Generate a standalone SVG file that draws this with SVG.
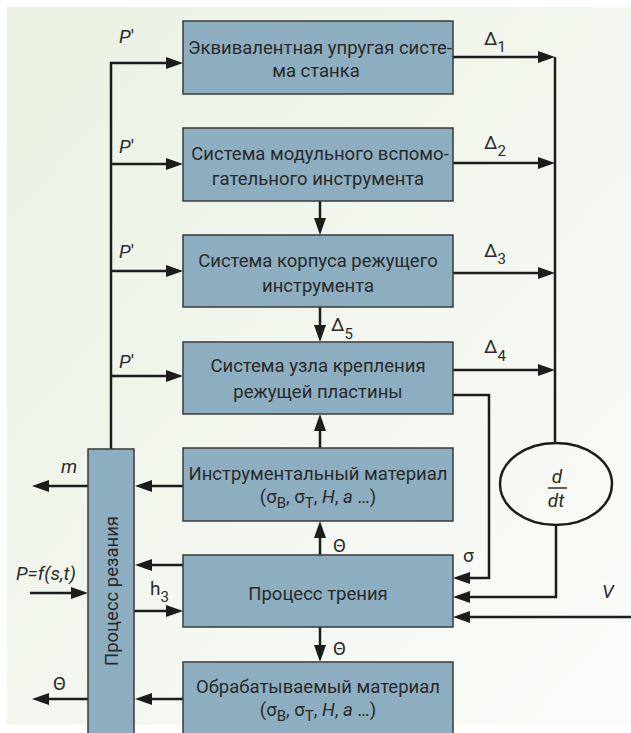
<svg xmlns="http://www.w3.org/2000/svg" width="631" height="733" viewBox="0 0 631 733">
<defs>
<linearGradient id="bg" x1="0" y1="0" x2="1" y2="1">
<stop offset="0" stop-color="#eaf1e2"/>
<stop offset="1" stop-color="#fbfcfa"/>
</linearGradient>
<marker id="ah" viewBox="0 0 17 12" refX="7" refY="6" markerWidth="17" markerHeight="12" markerUnits="userSpaceOnUse" orient="auto">
<path d="M0,0 L17,6 L0,12 z" fill="#1c1c1c"/>
</marker>
<style>
.box{fill:#8daec0;stroke:#3a3a3a;stroke-width:1.5}
.t{font-family:Roboto,"Noto Sans",sans-serif;font-size:18.5px;fill:#2a2a2a}
.l{font-size:19px}
.c{text-anchor:middle}
.i{font-style:italic}
.u{font-style:normal}
.w{fill:none;stroke:#1c1c1c;stroke-width:2.5}
.a{marker-end:url(#ah)}
.s{font-size:15px}
</style>
</defs>
<rect x="0" y="0" width="631" height="733" fill="#ffffff"/>
<rect x="7" y="7" width="624" height="718" fill="url(#bg)"/>

<g id="connectors">
<path class="w a" d="M111,449 V63 H173"/>
<path class="w a" d="M111,164 H173"/>
<path class="w a" d="M111,271 H173"/>
<path class="w a" d="M111,376 H173"/>
<path class="w a" d="M453,57 H545"/>
<path class="w a" d="M453,163 H545"/>
<path class="w a" d="M453,273 H545"/>
<path class="w a" d="M453,370 H545"/>
<path class="w" d="M555,57 V443"/>
<path class="w a" d="M556,525 V597 H463"/>
<path class="w a" d="M453,395 H489 V578 H463"/>
<path class="w a" d="M631,617 H463"/>
<path class="w a" d="M320,201 V225"/>
<path class="w a" d="M320,307 V332"/>
<path class="w a" d="M320,448 V424"/>
<path class="w a" d="M320,555 V531"/>
<path class="w a" d="M320,627 V652"/>
<path class="w a" d="M183,486 H145"/>
<path class="w a" d="M88,486 H42"/>
<path class="w a" d="M183,565 H145"/>
<path class="w a" d="M30,593 H78"/>
<path class="w a" d="M134,611 H173"/>
<path class="w a" d="M88,699 H42"/>
<path class="w a" d="M183,699 H145"/>
</g>

<g id="n1"><rect class="box" x="183" y="21" width="270" height="73"/>
<text class="t c" x="320" y="54">Эквивалентная упругая систе-</text>
<text class="t c" x="316" y="77">ма станка</text></g>

<g id="n2"><rect class="box" x="183" y="128" width="270" height="73"/>
<text class="t c" x="320" y="160">Система модульного вспомо-</text>
<text class="t c" x="318" y="185">гательного инструмента</text></g>

<g id="n3"><rect class="box" x="183" y="235" width="270" height="72"/>
<text class="t c" x="318" y="267">Система корпуса режущего</text>
<text class="t c" x="318" y="292">инструмента</text></g>

<g id="n4"><rect class="box" x="183" y="342" width="270" height="72"/>
<text class="t c" x="318" y="372">Система узла крепления</text>
<text class="t c" x="318" y="398">режущей пластины</text></g>

<g id="n5"><rect class="box" x="183" y="448" width="270" height="73"/>
<text class="t c" x="318" y="480">Инструментальный материал</text>
<text class="t c" x="318" y="503">(σ<tspan class="s" dy="5">B</tspan><tspan dy="-5">, σ</tspan><tspan class="s" dy="5">T</tspan><tspan dy="-5">, </tspan><tspan class="i">H</tspan>, <tspan class="i">a</tspan> …)</text></g>

<g id="n6"><rect class="box" x="183" y="555" width="270" height="72"/>
<text class="t c" x="318" y="600">Процесс трения</text></g>

<g id="n7"><rect class="box" x="183" y="662" width="270" height="80"/>
<text class="t c" x="318" y="693">Обрабатываемый материал</text>
<text class="t c" x="318" y="716">(σ<tspan class="s" dy="5">B</tspan><tspan dy="-5">, σ</tspan><tspan class="s" dy="5">T</tspan><tspan dy="-5">, </tspan><tspan class="i">H</tspan>, <tspan class="i">a</tspan> …)</text></g>

<g id="n8"><rect class="box" x="88" y="449" width="46" height="294"/>
<text class="t c" transform="translate(117.5,591) rotate(-90)" x="0" y="0">Процесс резания</text></g>

<g id="n9"><ellipse cx="556" cy="484" rx="56" ry="41" fill="none" stroke="#1c1c1c" stroke-width="2.5"/>
<text class="t l c i" x="557" y="483">d</text>
<line x1="548" y1="488" x2="567" y2="488" stroke="#2a2a2a" stroke-width="1.5"/>
<text class="t l c i" x="556" y="507">dt</text></g>

<g id="labels">
<text class="t l i" x="119" y="43">P<tspan class="u">'</tspan></text>
<text class="t l i" x="119" y="153">P<tspan class="u">'</tspan></text>
<text class="t l i" x="119" y="258">P<tspan class="u">'</tspan></text>
<text class="t l i" x="119" y="368">P<tspan class="u">'</tspan></text>
<text class="t l" x="484" y="45">Δ<tspan class="s" dy="7">1</tspan></text>
<text class="t l" x="484" y="149">Δ<tspan class="s" dy="7">2</tspan></text>
<text class="t l" x="484" y="257">Δ<tspan class="s" dy="7">3</tspan></text>
<text class="t l" x="484" y="353">Δ<tspan class="s" dy="8">4</tspan></text>
<text class="t l" x="331" y="331">Δ<tspan class="s" dy="8">5</tspan></text>
<text class="t l" x="463" y="562">σ</text>
<text class="t l i" x="602" y="598">V</text>
<text class="t l" x="333" y="552">Θ</text>
<text class="t l" x="333" y="655">Θ</text>
<text class="t l" x="53" y="690">Θ</text>
<text class="t l i" x="61" y="473">m</text>
<text class="t l i" x="16" y="580">P=f(s,t)</text>
<text class="t l" x="150" y="595">h<tspan class="s" dy="7">3</tspan></text>
</g>
</svg>
